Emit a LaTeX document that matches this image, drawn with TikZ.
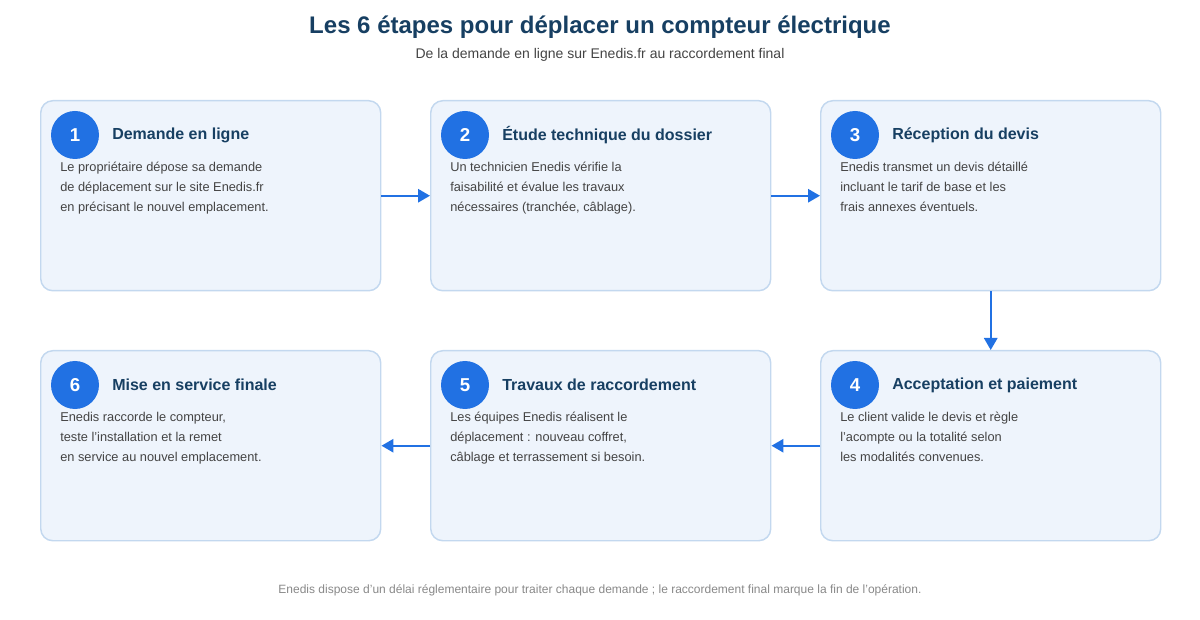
\documentclass[tikz,border=0pt]{standalone}
\usepackage{fontspec}
\setmainfont{Liberation Sans}
\usetikzlibrary{arrows.meta}
\definecolor{boxfill}{HTML}{EEF4FC}
\definecolor{boxline}{HTML}{C3D8EF}
\definecolor{blueC}{HTML}{2171E3}
\definecolor{navy}{HTML}{173F62}
\definecolor{bodyc}{HTML}{444444}
\definecolor{foot}{HTML}{888888}
\begin{document}
\begin{tikzpicture}[x=0.75pt,y=-0.75pt,
 box/.style={draw=boxline,line width=1.1pt,fill=boxfill,rounded corners=9pt,minimum width=255pt,minimum height=142.5pt,inner sep=0},
 num/.style={circle,fill=blueC,minimum size=36pt,inner sep=0,text=white,font=\bfseries\fontsize{14}{16}\selectfont},
 head/.style={anchor=west,text=navy,font=\bfseries\fontsize{12}{14}\selectfont,inner sep=0},
 body/.style={anchor=north west,text=bodyc,align=left,font=\fontsize{9.6}{15}\selectfont,inner sep=0},
 arr/.style={draw=blueC,line width=1.5pt,-{Triangle[length=9pt,width=10pt]}}]
\useasboundingbox (0,0) rectangle (1200,620);
\node[text=navy,font=\bfseries\fontsize{18}{20}\selectfont] (title) at (600,27) {Les 6 étapes pour déplacer un compteur électrique};
\node[text=bodyc,font=\fontsize{10.5}{12}\selectfont] (sub) at (600,55) {De la demande en ligne sur Enedis.fr au raccordement final};
\foreach \n/\x/\y/\h/\t in {
 1/40/100/Demande en ligne/{Le propriétaire dépose sa demande\\de déplacement sur le site Enedis.fr\\en précisant le nouvel emplacement.},
 2/430/100/Étude technique du dossier/{Un technicien Enedis vérifie la\\faisabilité et évalue les travaux\\nécessaires (tranchée, câblage).},
 3/820/100/Réception du devis/{Enedis transmet un devis détaillé\\incluant le tarif de base et les\\frais annexes éventuels.},
 4/820/350/Acceptation et paiement/{Le client valide le devis et règle\\l'acompte ou la totalité selon\\les modalités convenues.},
 5/430/350/Travaux de raccordement/{Les équipes Enedis réalisent le\\déplacement : nouveau coffret,\\câblage et terrassement si besoin.},
 6/40/350/Mise en service finale/{Enedis raccorde le compteur,\\teste l'installation et la remet\\en service au nouvel emplacement.}}{
 \node[box,anchor=north west] (b\n) at (\x,\y) {};
 \node[num] (c\n) at (\x+35,\y+35) {\n};
 \node[head] (h\n) at (\x+72,\y+35) {\h};
 \node[body] (t\n) at (\x+20,\y+62) {\t};
}
\draw[arr] (b1.east) -- (b2.west);
\draw[arr] (b2.east) -- (b3.west);
\draw[arr] (b3.south) -- (b4.north);
\draw[arr] (b4.west) -- (b5.east);
\draw[arr] (b5.west) -- (b6.east);
\node[text=foot,font=\fontsize{9}{10}\selectfont] (ft) at (600,590) {Enedis dispose d'un délai réglementaire pour traiter chaque demande ; le raccordement final marque la fin de l'opération.};
\end{tikzpicture}
\end{document}
